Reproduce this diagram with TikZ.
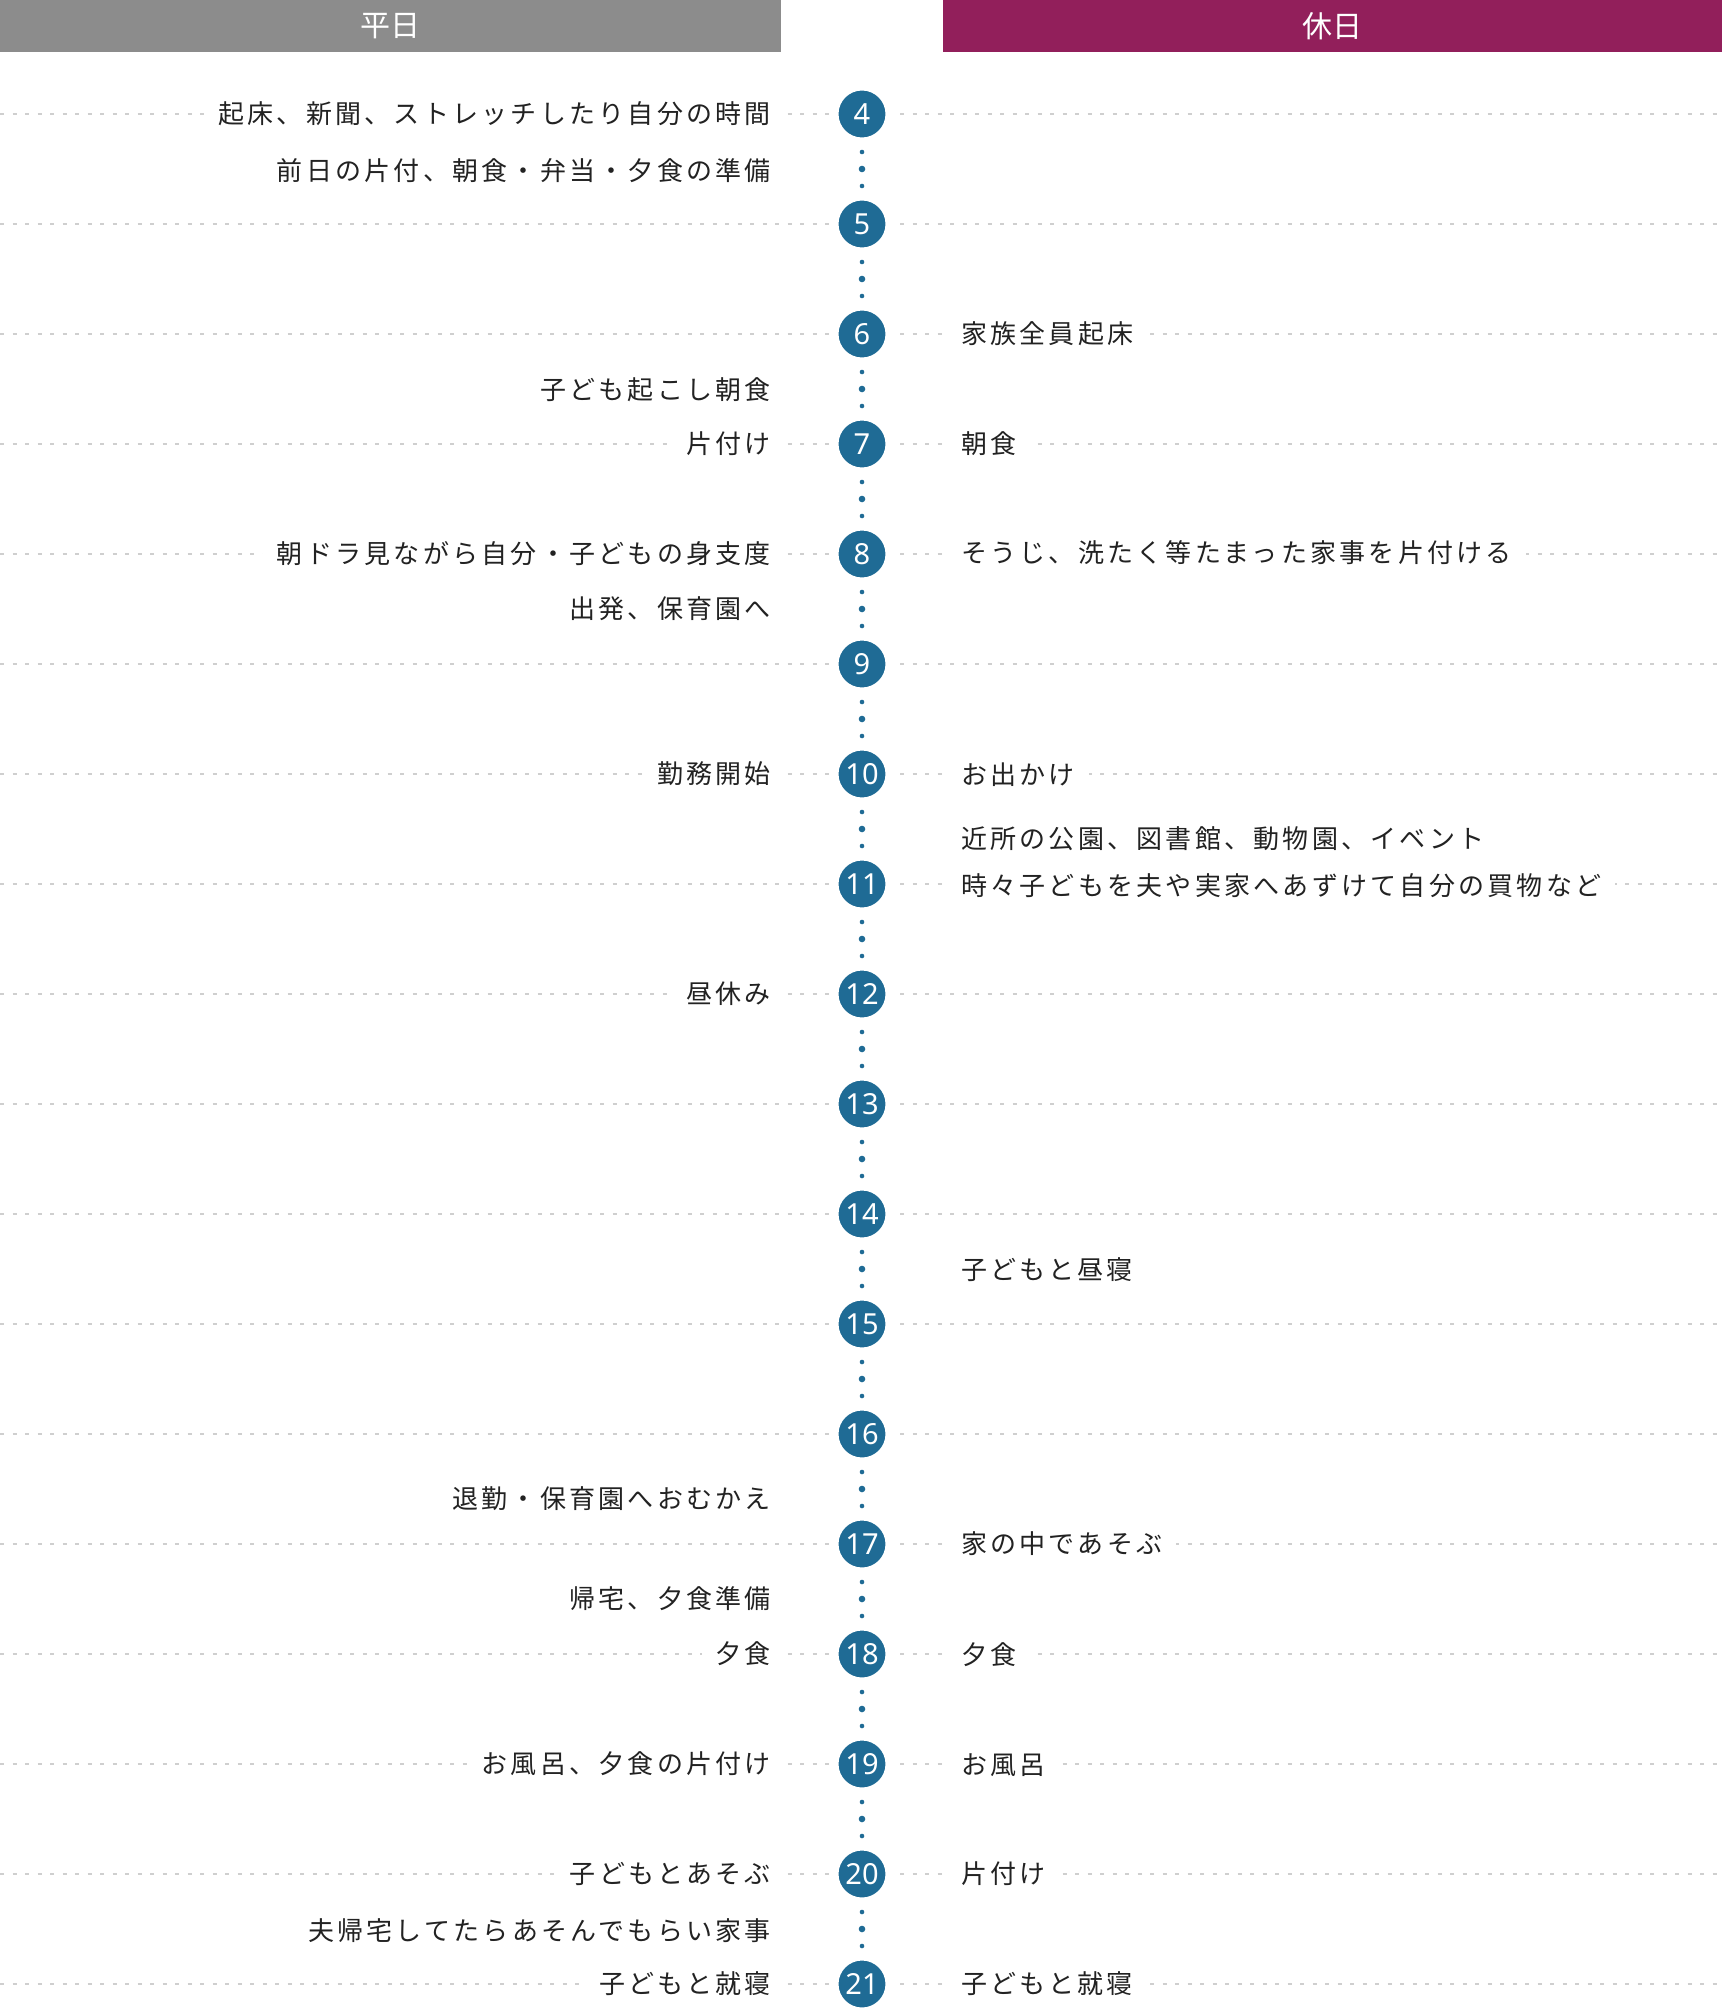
\documentclass[tikz,border=0pt]{standalone}
\usepackage{fontspec}
\usetikzlibrary{calc}
\newfontfamily\jpfont{Noto Sans CJK JP}[LetterSpace=12.5]
\newfontfamily\headfont{Noto Sans CJK JP}
\newfontfamily\numfont{Noto Sans}
\definecolor{hourblue}{HTML}{1F6B95}
\definecolor{weekgray}{HTML}{8C8C8C}
\definecolor{holpurple}{HTML}{921F5B}
\definecolor{guidegray}{HTML}{CFCFCF}
\definecolor{inkblack}{HTML}{222222}
\tikzset{
  guide/.style={guidegray, line width=2pt, dash pattern=on 4pt off 8.5pt},
  headbar/.style={minimum height=52pt, inner sep=0pt, text=white, font=\headfont\fontsize{30}{30}\selectfont},
  hour/.style={circle, fill=hourblue, draw=white, line width=7pt, minimum size=54pt, inner sep=0pt, text=white, font=\numfont\fontsize{29}{29}\selectfont},
  dotbig/.style={circle, fill=hourblue, minimum size=6.6pt, inner sep=0pt},
  dotsmall/.style={circle, fill=hourblue, minimum size=4.6pt, inner sep=0pt},
  task/.style={fill=white, inner xsep=14pt, inner ysep=2pt, text=inkblack, font=\jpfont\fontsize{26}{26}\selectfont},
  weektask/.style={task, anchor=east},
  holtask/.style={task, anchor=west}
}
\begin{document}
\begin{tikzpicture}[x=1pt,y=-1pt]
\useasboundingbox (0,0) rectangle (1722,2008);

\node[headbar, fill=weekgray, minimum width=781pt] (weekday) at (390.5,26) {平日};
\node[headbar, fill=holpurple, minimum width=779pt] (holiday) at (1332.5,26) {休日};

\foreach \h in {4,...,21}{
  \pgfmathsetmacro\yy{114+(\h-4)*110}
  \draw[guide] (0,\yy) -- (1722,\yy);
  \node[hour] (t\h) at (862,\yy) {\h};
}

\foreach \h [evaluate=\h as \n using int(\h+1)] in {4,...,20}{
  \path (t\h) -- (t\n) node[midway, dotbig] (dm\h) {}
    node[midway, yshift=17pt, dotsmall] (da\h) {}
    node[midway, yshift=-17pt, dotsmall] (db\h) {};
}

\node[weektask] (w4) at (785,114) {起床、新聞、ストレッチしたり自分の時間};
\node[weektask] (w4b) at (785,171) {前日の片付、朝食・弁当・夕食の準備};
\node[weektask] (w6b) at (785,390) {子ども起こし朝食};
\node[weektask] (w7) at (785,444) {片付け};
\node[weektask] (w8) at (785,554) {朝ドラ見ながら自分・子どもの身支度};
\node[weektask] (w8b) at (785,609) {出発、保育園へ};
\node[weektask] (w10) at (785,774) {勤務開始};
\node[weektask] (w12) at (785,994) {昼休み};
\node[weektask] (w16b) at (785,1499) {退勤・保育園へおむかえ};
\node[weektask] (w17b) at (785,1599) {帰宅、夕食準備};
\node[weektask] (w18) at (785,1654) {夕食};
\node[weektask] (w19) at (785,1764) {お風呂、夕食の片付け};
\node[weektask] (w20) at (785,1874) {子どもとあそぶ};
\node[weektask] (w20b) at (785,1931) {夫帰宅してたらあそんでもらい家事};
\node[weektask] (w21) at (785,1984) {子どもと就寝};

\node[holtask] (r6) at (947,334) {家族全員起床};
\node[holtask] (r7) at (947,444) {朝食};
\node[holtask] (r8) at (947,553) {そうじ、洗たく等たまった家事を片付ける};
\node[holtask] (r10) at (947,775) {お出かけ};
\node[holtask] (r10b) at (947,839) {近所の公園、図書館、動物園、イベント};
\node[holtask] (r11) at (947,886) {時々子どもを夫や実家へあずけて自分の買物など};
\node[holtask] (r14b) at (947,1270) {子どもと昼寝};
\node[holtask] (r17) at (947,1544) {家の中であそぶ};
\node[holtask] (r18) at (947,1655) {夕食};
\node[holtask] (r19) at (947,1765) {お風呂};
\node[holtask] (r20) at (947,1874) {片付け};
\node[holtask] (r21) at (947,1984) {子どもと就寝};
\end{tikzpicture}
\end{document}
